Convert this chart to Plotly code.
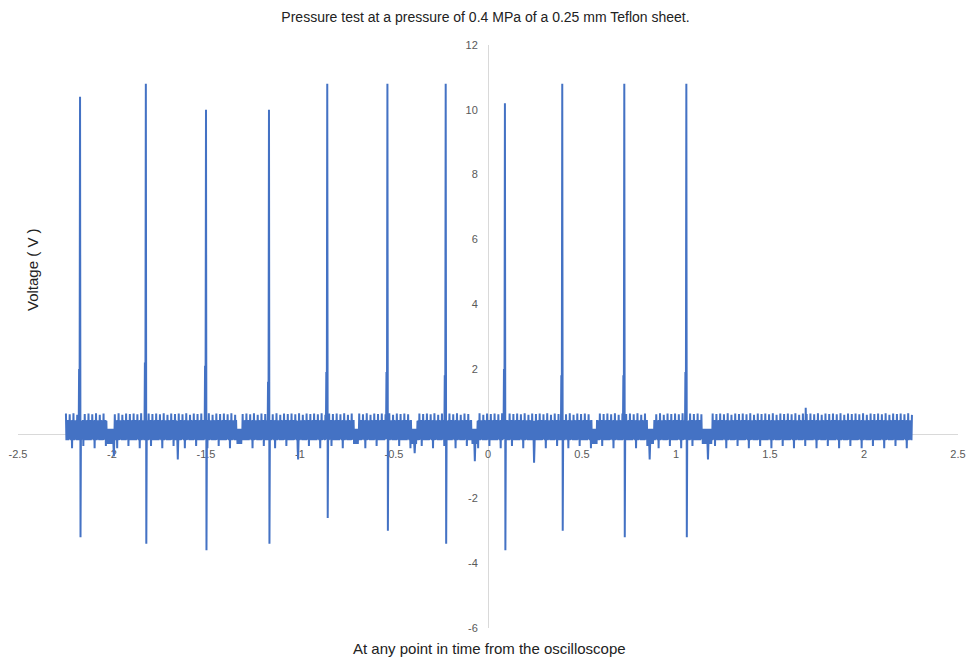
import numpy as np
import plotly.graph_objects as go

# Discharge pulses: time (s), peak voltage, undershoot and the shoulder on the rising edge (V)
pulse_t = [-2.17, -1.82, -1.50, -1.165, -0.855, -0.535, -0.225, 0.09, 0.395, 0.725, 1.055]
pulse_peak = [10.4, 10.8, 10.0, 10.0, 10.8, 10.8, 10.8, 10.2, 10.8, 10.8, 10.8]
pulse_min = [-3.2, -3.4, -3.6, -3.4, -2.6, -3.0, -3.4, -3.6, -3.0, -3.2, -3.2]
pulse_shoulder = [2.0, 2.2, 2.1, 1.6, 1.9, 1.9, 1.8, 2.0, 1.8, 1.8, 1.9]

# Baseline ripple, one period of readings (V), repeated over the record
ripple = [
    0.62, -0.20, 0.40, -0.16, 0.42, -0.20, 0.40, -0.18,
    0.60, -0.17, 0.41, -0.20, 0.40, -0.45, 0.42, -0.18,
    0.63, -0.20, 0.40, -0.16, 0.41, -0.19, 0.40, -0.20,
    0.58, -0.18, 0.42, -0.20, 0.40, -0.17, 0.41, -0.20,
    0.62, -0.19, 0.40, -0.16, 0.42, -0.38, 0.40, -0.18,
    0.61, -0.20, 0.41, -0.17, 0.40, -0.20, 0.42, -0.18,
]

# Stretches where the baseline sags (s)
sag_start = [-2.03, -1.335, -0.715, -0.405, -0.085, 0.55, 0.85, 1.14]
sag_end = [-1.99, -1.31, -0.69, -0.38, -0.06, 0.58, 0.88, 1.19]
sag_high, sag_low = 0.15, -0.32

# Isolated excursions of the baseline (s, V)
blip_t = [-1.99, -1.65, -1.01, -0.39, -0.07, 0.245, 0.86, 1.17, 1.69]
blip_v = [-0.7, -0.8, -0.8, -0.6, -0.85, -0.9, -0.8, -0.8, 0.8]

# Record window and sampling interval (s)
t_start, t_end, dt = -2.245, 2.255, 0.0025

# Axis ticks
x_ticks = [-2.5, -2, -1.5, -1, -0.5, 0, 0.5, 1, 1.5, 2, 2.5]
x_tick_text = ["-2.5", "-2", "-1.5", "-1", "-0.5", "0", "0.5", "1", "1.5", "2", "2.5"]
y_ticks = [-6, -4, -2, 0, 2, 4, 6, 8, 10, 12]
y_tick_text = ["-6", "-4", "-2", "0", "2", "4", "6", "8", "10", "12"]

n = int(round((t_end - t_start) / dt)) + 1
t = t_start + dt * np.arange(n)
v = np.array([ripple[i % len(ripple)] for i in range(n)], dtype=float)

for a, b in zip(sag_start, sag_end):
    m = (t >= a) & (t <= b)
    v[m] = np.where(v[m] > 0, sag_high, sag_low)

for bt, bv in zip(blip_t, blip_v):
    v[int(np.argmin(np.abs(t - bt)))] = bv

for pt, pk, mn, sh in zip(pulse_t, pulse_peak, pulse_min, pulse_shoulder):
    k = int(np.argmin(np.abs(t - pt)))
    v[k - 2:k + 3] = [sh, 0.3, pk, mn, 0.3]

blue = "#4472C4"
grey_line = "#D9D9D9"
grey_text = "#595959"

fig = go.Figure(
    go.Scatter(
        x=t, y=v, mode="lines",
        line=dict(color=blue, width=2, simplify=False),
        hoverinfo="skip",
    )
)

fig.update_layout(
    width=971, height=662,
    margin=dict(l=18, r=13, t=45, b=34),
    paper_bgcolor="white", plot_bgcolor="white",
    showlegend=False,
    font=dict(family="Liberation Sans, Arial, sans-serif", color=grey_text),
    title=dict(
        text="Pressure test at a pressure of 0.4 MPa of a 0.25 mm Teflon sheet.",
        x=0.5, xanchor="center", y=1 - 17 / 662, yanchor="middle",
        font=dict(size=14, color="#222222"),
    ),
    xaxis=dict(
        range=[-2.5, 2.5], domain=[0, 1],
        anchor="free", position=6 / 18, automargin=False,
        tickmode="array", tickvals=x_ticks, ticktext=x_tick_text,
        showgrid=False, zeroline=False,
        showline=True, linecolor=grey_line, linewidth=1, layer="below traces",
        ticks="", ticklabelstandoff=10,
        tickfont=dict(size=11, color=grey_text),
    ),
    yaxis=dict(
        range=[-6, 12], domain=[0, 1],
        anchor="free", position=0.5, automargin=False,
        tickmode="array", tickvals=y_ticks, ticktext=y_tick_text,
        showgrid=False, zeroline=False,
        showline=True, linecolor=grey_line, linewidth=1, layer="below traces",
        ticks="", ticklabelstandoff=8,
        tickfont=dict(size=11, color=grey_text),
    ),
    annotations=[
        dict(
            text="At any point in time from the oscilloscope",
            xref="paper", yref="paper", x=(489 - 18) / 940, y=(628 - 648) / 583,
            xanchor="center", yanchor="middle", showarrow=False,
            font=dict(size=15, color="#222222"),
        ),
        dict(
            text="Voltage ( V )",
            xref="paper", yref="paper", x=(32 - 18) / 940, y=(628 - 270) / 583,
            xanchor="center", yanchor="middle", showarrow=False, textangle=-90,
            font=dict(size=15, color="#222222"),
        ),
    ],
)

fig.write_html("out.html")
